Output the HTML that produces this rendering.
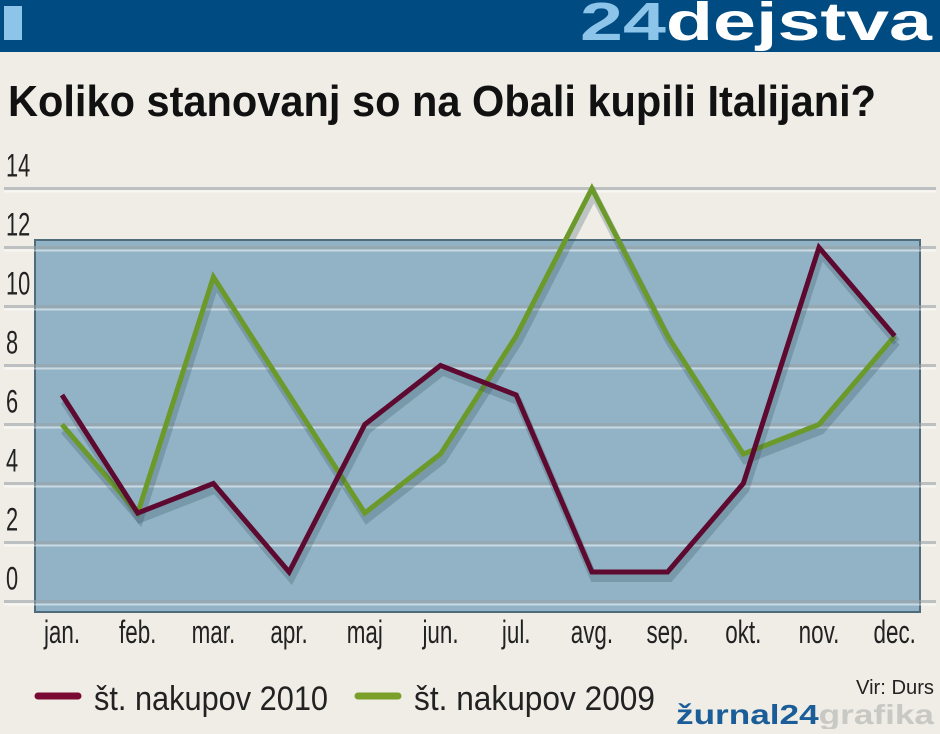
<!DOCTYPE html>
<html><head><meta charset="utf-8"><style>
body{margin:0;width:940px;height:729px;background:#efede6;overflow:hidden;font-family:"Liberation Sans",sans-serif}
</style></head><body>
<svg width="940" height="729" xmlns="http://www.w3.org/2000/svg">
<rect x="0" y="0" width="940" height="52" fill="#004c82"/>
<rect x="4" y="6" width="18" height="34" fill="#8cc4ea"/>
<text x="580" y="40" font-family="Liberation Sans" font-weight="bold" font-size="54" textLength="352" lengthAdjust="spacingAndGlyphs"><tspan fill="#8cc4ea">24</tspan><tspan fill="#ffffff">dejstva</tspan></text>
<text x="8" y="116" font-family="Liberation Sans" font-weight="bold" font-size="44" fill="#111" textLength="868" lengthAdjust="spacingAndGlyphs">Koliko stanovanj so na Obali kupili Italijani?</text>
<rect x="35" y="240" width="885" height="372" fill="#8aaec2" fill-opacity="0.92" stroke="#4e6c7c" stroke-width="2"/>
<g id="grid2"></g>
<g id="ylab"></g><g id="xlab"></g><g id="lines"></g>
<line x1="38" y1="696" x2="78" y2="696" stroke="#7a0a34" stroke-width="7" stroke-linecap="round"/>
<text x="94" y="710" font-size="34" fill="#222" textLength="234" lengthAdjust="spacingAndGlyphs">št. nakupov 2010</text>
<line x1="358" y1="696" x2="398" y2="696" stroke="#7aa02a" stroke-width="7" stroke-linecap="round"/>
<text x="414" y="710" font-size="34" fill="#222" textLength="241" lengthAdjust="spacingAndGlyphs">št. nakupov 2009</text>
<text x="934" y="694" text-anchor="end" font-size="20" fill="#222" textLength="78" lengthAdjust="spacingAndGlyphs">Vir: Durs</text>
<text x="676" y="724" font-family="Liberation Sans" font-weight="bold" font-size="28" textLength="258" lengthAdjust="spacingAndGlyphs"><tspan fill="#1a5d98">žurnal24</tspan><tspan fill="#c8c8c4">grafika</tspan></text>
</svg>
<script>
const months=["jan.","feb.","mar.","apr.","maj","jun.","jul.","avg.","sep.","okt.","nov.","dec."];
const series2010=[7,3,4,1,6,8,7,1,1,4,12,9];
const series2009=[6,3,11,7,3,5,9,14,9,5,6,9];
const yTicks=[0,2,4,6,8,10,12,14];
const NS="http://www.w3.org/2000/svg";
const xS=i=>62+i*75.7;
const yS=v=>601.5-v*29.5;
function mk(t,a,p){const e=document.createElementNS(NS,t);for(const k in a)e.setAttribute(k,a[k]);p.appendChild(e);return e;}
const grid=document.getElementById('grid2'),yl=document.getElementById('ylab'),xl=document.getElementById('xlab'),ln=document.getElementById('lines');
yTicks.forEach(v=>{
 const g=mk('line',{x1:4,x2:936,y1:yS(v),y2:yS(v),stroke:'#9aa2a6','stroke-width':3,'stroke-opacity':0.6},grid);
 
 
 const w=mk('line',{x1:4,x2:936,y1:yS(v)+3,y2:yS(v)+3,stroke:'#ffffff','stroke-width':2,'stroke-opacity':0.5},grid);
 
 
 const t=mk('text',{x:0,y:0,'font-size':32,fill:'#222',transform:'translate(6,'+(yS(v)-12)+') scale(0.68,1)'},yl);
 t.textContent=v;
 
 
});
months.forEach((m,i)=>{
 const t=mk('text',{x:0,y:0,'font-size':32,fill:'#222','text-anchor':'middle',transform:'translate('+xS(i)+',643) scale(0.7,1)'},xl);
 t.textContent=m;
 
 
});
function drawLine(data,color,name){
 const pts=data.map((v,i)=>xS(i)+','+yS(v)).join(' ');
 const s=mk('polyline',{points:pts,fill:'none',stroke:'#2a4a5a','stroke-opacity':0.25,'stroke-width':8,transform:'translate(2,6)','stroke-linejoin':'miter'},ln);
 
 
 const p=mk('polyline',{points:pts,fill:'none',stroke:color,'stroke-width':5,'stroke-linejoin':'miter'},ln);
 
 
}
drawLine(series2009,'#6b9a2a','line-2009');
drawLine(series2010,'#5e0a30','line-2010');
</script>
</body></html>
